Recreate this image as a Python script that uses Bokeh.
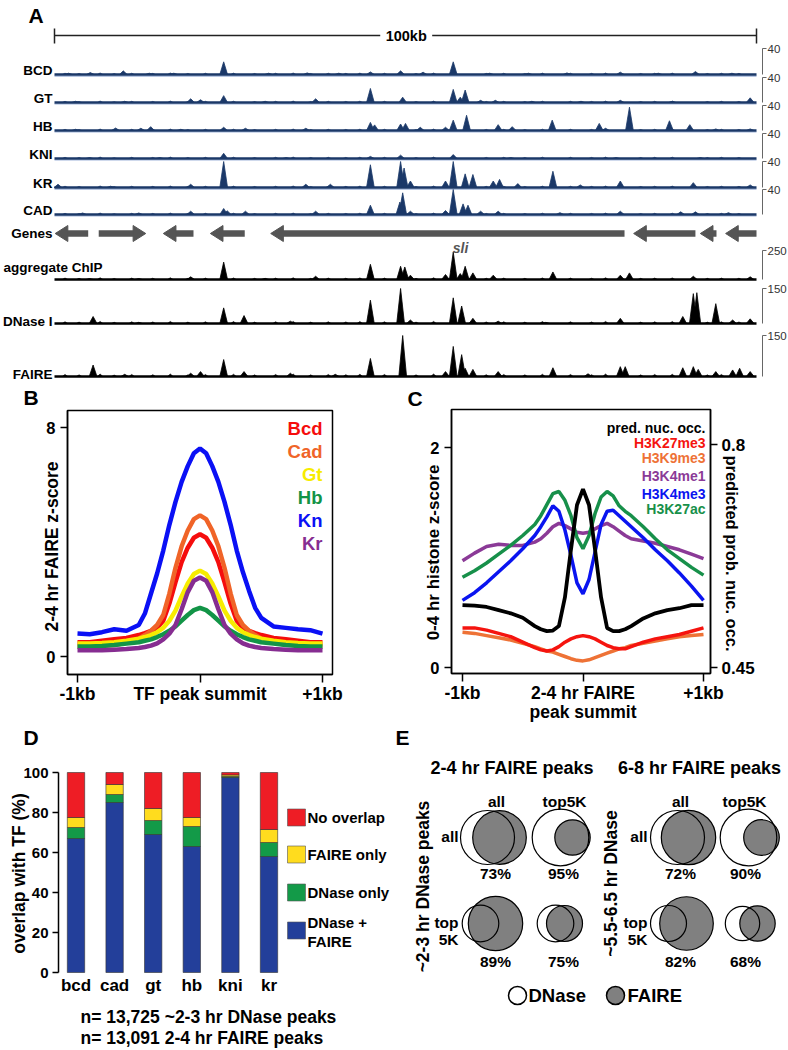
import math
from bokeh.plotting import figure
from bokeh.layouts import column, row
from bokeh.models import Range1d, LinearAxis, FixedTicker, Label
from bokeh.embed import file_html
from bokeh.resources import INLINE

FONT = "Liberation Sans"

# ---------------- Panel A data ----------------
track_names = ["BCD", "GT", "HB", "KNI", "KR", "CAD", "aggregate ChIP", "DNase I", "FAIRE"]
track_max = [40, 40, 40, 40, 40, 40, 250, 150, 150]

bcd_pos = [2.0, 5.1, 9.8, 13.5, 17.0, 24.1, 30.5, 36.0, 40.5, 45.0, 49.3, 52.5, 56.8, 62.0, 67.5, 73.0, 80.6, 86.0, 91.3, 96.5]
bcd_val = [2.0, 3.0, 5.6, 2.0, 2.0, 19.5, 2.0, 2.5, 2.0, 4.0, 5.6, 3.6, 19.5, 2.0, 2.0, 2.5, 3.6, 2.0, 4.6, 2.0]
gt_pos = [3.0, 10.0, 19.4, 20.8, 24.1, 30.0, 37.2, 45.0, 49.6, 56.8, 57.8, 58.5, 60.7, 62.8, 68.0, 75.0, 80.6, 88.0, 99.1]
gt_val = [2.0, 2.0, 6.0, 4.5, 11.0, 2.0, 6.0, 22.5, 8.5, 21.0, 8.5, 20.0, 3.5, 3.5, 2.0, 2.0, 3.5, 2.0, 7.5]
hb_pos = [3.0, 8.7, 12.3, 13.7, 18.0, 24.1, 27.2, 35.8, 45.0, 45.6, 49.3, 50.0, 52.1, 55.7, 56.8, 58.7, 63.2, 65.2, 70.9, 77.6, 78.5, 81.9, 87.6, 90.5, 94.2, 99.1]
hb_val = [2.0, 4.0, 3.6, 6.2, 2.0, 5.2, 3.6, 3.6, 13.0, 9.0, 10.4, 11.4, 5.2, 5.2, 16.6, 24.4, 9.4, 6.2, 16.6, 11.4, 3.6, 37.4, 15.6, 9.4, 2.6, 2.6]
kni_pos = [5.0, 15.0, 24.1, 33.0, 45.0, 49.3, 56.8, 65.0, 80.0, 92.0]
kni_val = [1.5, 1.5, 8.3, 1.5, 3.4, 5.4, 6.3, 1.5, 1.5, 1.5]
kr_pos = [0.5, 8.0, 19.4, 24.1, 35.8, 39.3, 45.0, 49.3, 49.8, 50.7, 55.7, 56.8, 58.5, 59.6, 62.5, 63.4, 66.0, 71.0, 74.9, 80.6, 91.0, 99.1]
kr_val = [5.0, 2.0, 5.0, 40.0, 5.0, 5.0, 35.0, 40.0, 30.0, 10.0, 10.0, 40.0, 21.0, 20.0, 10.0, 12.5, 6.0, 25.0, 4.0, 10.0, 7.5, 4.0]
cad_pos = [4.0, 12.0, 19.4, 24.1, 24.6, 27.2, 37.2, 45.0, 49.2, 49.6, 50.7, 55.7, 56.8, 58.2, 58.9, 60.7, 63.2, 72.0, 80.6, 89.2, 91.3, 96.0]
cad_val = [2.5, 2.5, 5.3, 9.6, 6.0, 5.3, 5.3, 14.9, 20.0, 34.7, 5.3, 6.4, 40.0, 17.0, 14.9, 5.3, 5.3, 3.0, 5.3, 4.3, 4.3, 3.0]
agg_pos = [5.0, 12.0, 19.4, 24.1, 30.0, 37.2, 45.0, 49.3, 49.9, 50.7, 55.7, 56.8, 57.8, 58.5, 59.6, 62.5, 71.0, 80.6, 81.9, 91.0, 99.1]
agg_val = [8, 8, 23, 150, 10, 28, 131, 114, 108, 37, 43, 236, 51, 114, 57, 37, 65, 37, 57, 28, 23]
dnase_pos = [5.5, 12.0, 24.1, 27.0, 33.6, 45.0, 49.3, 50.7, 56.8, 58.0, 59.6, 63.2, 70.0, 80.6, 89.5, 91.0, 91.5, 94.2, 96.6, 99.1]
dnase_val = [30, 5, 67, 34, 10, 100, 150, 15, 110, 75, 22, 10, 5, 22, 30, 128, 132, 85, 15, 20]
faire_pos = [5.5, 10.0, 19.4, 20.8, 24.1, 27.0, 33.6, 40.0, 45.0, 49.6, 55.7, 56.8, 58.0, 58.5, 59.6, 63.2, 71.0, 76.0, 80.6, 81.3, 89.5, 91.0, 91.7, 94.2, 96.6, 97.6, 99.1]
faire_val = [42, 8, 12, 18, 62, 18, 12, 8, 66, 150, 18, 110, 80, 30, 26, 18, 32, 10, 36, 36, 32, 36, 26, 18, 24, 30, 18]
# low background signal shared by all tracks (fraction of each track's scale)
floor_pos = [1.5, 3.5, 6.5, 8.5, 11.0, 14.0, 16.5, 19.0, 21.5, 25.5, 28.5, 31.5, 34.0, 36.5, 39.0,
             41.5, 43.5, 47.0, 51.5, 54.0, 61.5, 64.0, 67.0, 69.5, 73.5, 76.5, 78.5, 83.5, 85.5,
             88.0, 93.0, 95.0, 97.5]
floor_frac = [0.05, 0.04, 0.06, 0.035, 0.05, 0.045, 0.06, 0.04, 0.05, 0.055, 0.04, 0.05, 0.06,
              0.04, 0.05, 0.045, 0.055, 0.05, 0.04, 0.06, 0.045, 0.05, 0.04, 0.055, 0.05, 0.045,
              0.06, 0.04, 0.05, 0.055, 0.04, 0.05, 0.045]

gene_start = [0.1, 6.3, 15.5, 22.2, 30.8, 82.5, 92.0, 95.6]
gene_end = [4.8, 13.0, 19.8, 27.1, 81.2, 91.3, 94.3, 100.0]
gene_strand = ["-", "+", "-", "-", "-", "-", "-", "-"]

# ---------------- Panel B data ----------------
b_x = [-1000, -900, -800, -700, -600, -500, -450, -400, -350, -300, -250, -200, -150, -100, -50, 0,
       50, 100, 150, 200, 250, 300, 350, 400, 450, 500, 600, 700, 800, 900, 1000]
b_names = ["Bcd", "Cad", "Gt", "Hb", "Kn", "Kr"]
b_bcd = [0.5, 0.5, 0.55, 0.6, 0.65, 0.75, 0.82, 0.9, 1.0, 1.25, 1.85, 2.6, 3.3, 3.8, 4.15, 4.27, 4.15, 3.8, 3.3, 2.6, 1.85, 1.25, 1.0, 0.9, 0.82, 0.75, 0.65, 0.6, 0.55, 0.5, 0.5]
b_cad = [0.35, 0.35, 0.38, 0.4, 0.48, 0.62, 0.75, 0.9, 1.1, 1.45, 2.2, 3.1, 3.85, 4.4, 4.8, 4.93, 4.8, 4.4, 3.85, 3.1, 2.2, 1.45, 1.1, 0.9, 0.75, 0.62, 0.48, 0.42, 0.4, 0.38, 0.35]
b_gt = [0.45, 0.45, 0.47, 0.5, 0.55, 0.62, 0.68, 0.75, 0.85, 1.0, 1.25, 1.6, 2.1, 2.55, 2.88, 3.0, 2.88, 2.55, 2.1, 1.6, 1.25, 1.0, 0.85, 0.75, 0.68, 0.62, 0.55, 0.5, 0.47, 0.45, 0.45]
b_hb = [0.35, 0.35, 0.37, 0.4, 0.45, 0.5, 0.55, 0.6, 0.68, 0.78, 0.9, 1.05, 1.25, 1.45, 1.62, 1.7, 1.62, 1.45, 1.25, 1.05, 0.9, 0.78, 0.68, 0.6, 0.55, 0.5, 0.45, 0.4, 0.37, 0.35, 0.35]
b_kn = [0.8, 0.78, 0.85, 0.95, 0.9, 1.1, 1.5, 2.2, 2.9, 3.7, 4.6, 5.4, 6.1, 6.65, 7.1, 7.27, 7.1, 6.65, 6.1, 5.4, 4.6, 3.7, 2.95, 2.3, 1.7, 1.35, 1.05, 1.0, 0.95, 0.92, 0.8]
b_kr = [0.22, 0.22, 0.22, 0.24, 0.26, 0.3, 0.33, 0.38, 0.46, 0.6, 0.8, 1.1, 1.65, 2.25, 2.65, 2.76, 2.65, 2.25, 1.65, 1.1, 0.8, 0.6, 0.46, 0.38, 0.33, 0.3, 0.26, 0.24, 0.22, 0.22, 0.22]

# ---------------- Panel C data ----------------
c_x = [-1.0, -0.9, -0.8, -0.7, -0.6, -0.5, -0.4, -0.35, -0.3, -0.25, -0.2, -0.15, -0.1, -0.05, 0.0,
       0.05, 0.1, 0.15, 0.2, 0.25, 0.3, 0.35, 0.4, 0.5, 0.6, 0.7, 0.8, 0.9, 1.0]
c_names = ["pred. nuc. occ.", "H3K27me3", "H3K9me3", "H3K4me1", "H3K4me3", "H3K27ac"]
c_nuc = [0.548, 0.547, 0.545, 0.54, 0.535, 0.528, 0.515, 0.51, 0.507, 0.508, 0.515, 0.56, 0.635, 0.705, 0.73,
         0.705, 0.635, 0.56, 0.512, 0.507, 0.507, 0.51, 0.515, 0.527, 0.535, 0.54, 0.543, 0.548, 0.548]
c_k27me3 = [0.36, 0.36, 0.34, 0.31, 0.28, 0.23, 0.18, 0.16, 0.15, 0.16, 0.19, 0.23, 0.26, 0.28, 0.29,
            0.28, 0.26, 0.23, 0.2, 0.18, 0.17, 0.17, 0.19, 0.23, 0.26, 0.28, 0.3, 0.33, 0.36]
c_k9me3 = [0.32, 0.31, 0.29, 0.27, 0.25, 0.22, 0.19, 0.17, 0.15, 0.14, 0.12, 0.1, 0.08, 0.065, 0.06,
           0.07, 0.09, 0.11, 0.13, 0.15, 0.17, 0.18, 0.2, 0.22, 0.24, 0.26, 0.28, 0.29, 0.3]
c_k4me1 = [0.97, 1.04, 1.1, 1.12, 1.11, 1.11, 1.14, 1.17, 1.22, 1.28, 1.31, 1.29, 1.26, 1.23, 1.22,
           1.23, 1.26, 1.29, 1.31, 1.28, 1.24, 1.2, 1.17, 1.15, 1.13, 1.1, 1.07, 1.03, 0.99]
c_k4me3 = [0.61, 0.68, 0.77, 0.87, 0.97, 1.08, 1.2, 1.28, 1.37, 1.47, 1.42, 1.25, 1.02, 0.77, 0.67,
           0.8, 1.05, 1.3, 1.42, 1.43, 1.38, 1.33, 1.28, 1.18, 1.07, 0.97, 0.86, 0.74, 0.61]
c_k27ac = [0.82, 0.88, 0.95, 1.03, 1.11, 1.2, 1.3, 1.38, 1.48, 1.58, 1.6, 1.52, 1.38, 1.18, 1.08,
           1.2, 1.4, 1.55, 1.6, 1.56, 1.47, 1.42, 1.38, 1.28, 1.17, 1.07, 0.99, 0.91, 0.84]

# ---------------- Panel D data ----------------
d_cats = ["bcd", "cad", "gt", "hb", "kni", "kr"]
d_both = [67.0, 85.0, 69.0, 63.0, 97.5, 58.0]
d_dnase_only = [5.5, 4.0, 7.0, 10.0, 0.5, 7.0]
d_faire_only = [5.0, 5.0, 6.0, 4.5, 0.8, 6.5]
d_none = [22.5, 6.0, 18.0, 22.5, 1.2, 28.5]
d_series = ["No overlap", "FAIRE only", "DNase only", "DNase +", "FAIRE"]

# ---------------- Panel E data ----------------
e_groups = ["2-4 hr FAIRE peaks", "6-8 hr FAIRE peaks"]
e_percent = ["73%", "95%", "89%", "75%", "72%", "90%", "82%", "68%"]

NAVY = "#1b3868"


def txt(p, x, y, s, size, color="black", style="bold", align="left", baseline="middle",
        angle=0.0, yr="default"):
    p.add_layout(Label(x=x, y=y, text=s, text_font=FONT, text_font_size=f"{size}px",
                       text_font_style=style, text_color=color, text_align=align,
                       text_baseline=baseline, angle=angle, y_range_name=yr))


def make_axis(size, tick_out, standoff, ticks, fixed, bounds, yr="default"):
    ax = LinearAxis(ticker=FixedTicker(ticks=ticks), fixed_location=fixed, bounds=bounds,
                    y_range_name=yr)
    ax.major_tick_in = 0
    ax.major_tick_out = tick_out
    ax.minor_tick_line_color = None
    ax.major_tick_line_color = "black"
    ax.major_tick_line_width = 1.5
    ax.axis_line_color = "black"
    ax.axis_line_width = 1.5
    ax.major_label_text_font = FONT
    ax.major_label_text_font_size = f"{size}px"
    ax.major_label_text_font_style = "bold"
    ax.major_label_text_color = "black"
    ax.major_label_standoff = standoff
    return ax


def base_fig(w, h, xr, yr):
    p = figure(width=w, height=h, x_range=xr, y_range=yr, output_backend="svg",
               toolbar_location=None, min_border=0, x_axis_location=None,
               y_axis_location=None, frame_align=False)
    p.grid.visible = False
    p.outline_line_color = None
    return p


ROW2_TOP, ROW3_TOP, PAGE_BOTTOM = 386, 724, 1048


# ================= Panel A =================
def kb(px):
    return (px - 54) / 7.02


pa = base_fig(788, ROW2_TOP, Range1d(kb(0), kb(788)), Range1d(ROW2_TOP, 0))
A_TOP = [48, 77, 105, 133, 161, 189, 250, 288, 335]
A_BASE = [74, 102, 130, 158, 187, 214, 279, 323, 376]
ranges = {}
for i in range(9):
    upp = track_max[i] / (A_BASE[i] - A_TOP[i])
    ranges[f"t{i}"] = Range1d(start=(A_BASE[i] - ROW2_TOP) * upp, end=A_BASE[i] * upp)
pa.extra_y_ranges = ranges

tracks = [(bcd_pos, bcd_val), (gt_pos, gt_val), (hb_pos, hb_val), (kni_pos, kni_val),
          (kr_pos, kr_val), (cad_pos, cad_val), (agg_pos, agg_val), (dnase_pos, dnase_val),
          (faire_pos, faire_val)]
HW = 0.55
for i, (pos, val) in enumerate(tracks):
    rn = f"t{i}"
    col = NAVY if i < 6 else "black"
    M = track_max[i]
    if i < 6:
        pa.line([0, 100], [-0.06 * M, -0.06 * M], line_color="#9fb3d9", line_width=1.2, y_range_name=rn)
    fx = [[p - 0.4, p, p + 0.4] for p in floor_pos]
    fy = [[0, f * M, 0] for f in floor_frac]
    pa.patches(fx, fy, fill_color=col, line_color=col, line_width=0.6, y_range_name=rn)
    xs = [[p - HW, p, p + HW] for p in pos]
    ys = [[0, v, 0] for v in val]
    pa.patches(xs, ys, fill_color=col, line_color=col, line_width=0.8, y_range_name=rn)
    pa.line([0, 100], [0, 0], line_color=col, line_width=2.5, y_range_name=rn)
    xb = kb(762)
    pa.segment(x0=[xb, xb], y0=[0, M], x1=[xb, kb(766)], y1=[M, M], line_color="#666666",
               line_width=1, y_range_name=rn)
    txt(pa, kb(767), M, str(M), 11.5, color="#333333", style="normal", yr=rn)
    if i == 6:
        txt(pa, kb(102), 267, track_names[i], 13.5, align="right")
    elif i >= 7:
        txt(pa, kb(52), A_BASE[i] - 2, track_names[i], 13.5, align="right")
    else:
        txt(pa, kb(52), A_BASE[i] - 4, track_names[i], 13.5, align="right")

GY = 233
for s, e, st in zip(gene_start, gene_end, gene_strand):
    if st == "-":
        pa.segment(x0=[s + 1.2], y0=[GY], x1=[e], y1=[GY], line_color="#555555", line_width=6.5)
        pa.patch([s, s + 1.8, s + 1.8], [GY, GY - 8, GY + 8], color="#555555")
    else:
        pa.segment(x0=[s], y0=[GY], x1=[e - 1.2], y1=[GY], line_color="#555555", line_width=6.5)
        pa.patch([e, e - 1.8, e - 1.8], [GY, GY - 8, GY + 8], color="#555555")
txt(pa, kb(52), GY, "Genes", 13.5, align="right")
txt(pa, kb(460), 247, "sli", 14, color="#555555", style="bold italic", align="center")

pa.segment(x0=[0, 53.8, 0, 100], y0=[35, 35, 28, 28], x1=[46.4, 100, 0, 100], y1=[35, 35, 43, 43],
           line_color="#222222", line_width=1.5)
txt(pa, 50.1, 35, "100kb", 14.5, align="center")
txt(pa, kb(28), 15, "A", 21)


# ================= Panel B =================
def BX(px):
    return (px - 199.5) / 0.1225


def BY(py):
    return (656 - py) / 28.625


pb = base_fig(390, ROW3_TOP - ROW2_TOP, Range1d(BX(0), BX(390)), Range1d(BY(ROW3_TOP), BY(ROW2_TOP)))
bl, br, bb, bt = BX(67), BX(332), BY(674), BY(410)
pb.quad(left=[bl], right=[br], bottom=[bb], top=[bt], fill_color=None, line_color="black",
        line_width=1.5)
pb.add_layout(make_axis(16.5, 7, 5, [0, 8], bl, (bb, bt)), "left")
axb = make_axis(17.5, 8, 1, [-1000, 0, 1000], bb, (bl, br))
axb.major_label_overrides = {-1000: "-1kb", 0: "TF peak summit", 1000: "+1kb"}
pb.add_layout(axb, "below")

b_colors = ["#f50d0d", "#f06428", "#f7ec00", "#129447", "#0a10f5", "#862d91"]
for yv, col in zip([b_bcd, b_cad, b_gt, b_hb, b_kn, b_kr], b_colors):
    pb.line(b_x, yv, line_color=col, line_width=4.5)
for k, (nm, col) in enumerate(zip(b_names, b_colors)):
    txt(pb, BX(322), BY(428 + 23 * k), nm, 18.5, color=col, align="right")
txt(pb, BX(51), BY(546), "2-4 hr FAIRE z-score", 17.5, align="center", angle=math.pi / 2)
txt(pb, BX(23), BY(397), "B", 21)


# ================= Panel C =================
def CX(px):
    return (px - 582.5) / 120.5


def CY(py):
    return (667 - py) / 110.0


def CN(py):
    return 0.45 + (667 - py) * 0.35 / 223.0


pc = base_fig(398, ROW3_TOP - ROW2_TOP, Range1d(CX(390), CX(788)), Range1d(CY(ROW3_TOP), CY(ROW2_TOP)))
pc.extra_y_ranges = {"nuc": Range1d(CN(ROW3_TOP), CN(ROW2_TOP))}
cl, cr, cb, ct = CX(451), CX(710), CY(673), CY(409)
pc.quad(left=[cl], right=[cr], bottom=[cb], top=[ct], fill_color=None, line_color="black",
        line_width=1.5)
pc.add_layout(make_axis(16.5, 7, 5, [0, 2], cl, (cb, ct)), "left")
axc = make_axis(17.5, 8, 1, [-1, 0, 1], cb, (cl, cr))
axc.major_label_overrides = {-1: "-1kb", 0: "2-4 hr FAIRE", 1: "+1kb"}
pc.add_layout(axc, "below")
axr = make_axis(17, 7, 4, [0.45, 0.8], cr, (CN(673), CN(409)), yr="nuc")
axr.major_label_overrides = {0.45: "0.45", 0.8: "0.8"}
pc.add_layout(axr, "right")

c_colors = ["black", "#f5140f", "#ee7236", "#8b3a97", "#0a14f0", "#17904a"]
pc.line(c_x, c_k9me3, line_color=c_colors[2], line_width=3.5)
pc.line(c_x, c_k27me3, line_color=c_colors[1], line_width=3.5)
pc.line(c_x, c_k4me1, line_color=c_colors[3], line_width=3.5)
pc.line(c_x, c_k4me3, line_color=c_colors[4], line_width=3.5)
pc.line(c_x, c_k27ac, line_color=c_colors[5], line_width=3.5)
pc.line(c_x, c_nuc, line_color="black", line_width=3.8, y_range_name="nuc")
for k, (nm, col) in enumerate(zip(c_names, c_colors)):
    ypx = [427, 442, 457, 475, 493, 508][k]
    txt(pc, CX(705), CY(ypx), nm, 14, color=col, align="right")
txt(pc, CX(582.5), CY(711), "peak summit", 17.5, align="center")
txt(pc, CX(433), CY(552), "0-4 hr histone z-score", 17, align="center", angle=math.pi / 2)
txt(pc, CX(731), CY(553), "predicted prob. nuc. occ.", 16.5, align="center", angle=-math.pi / 2)
txt(pc, CX(407), CY(398), "C", 21)


# ================= Panel D =================
def DX(px):
    return (px - 75.5) / 38.6


def DY(py):
    return (972 - py) / 2.0


pdd = base_fig(390, PAGE_BOTTOM - ROW3_TOP, Range1d(DX(0), DX(390)), Range1d(DY(PAGE_BOTTOM), DY(ROW3_TOP)))
pdd.add_layout(make_axis(15, 6, 4, [0, 20, 40, 60, 80, 100], DX(58), (0, 100)), "left")
axd = make_axis(17, 0, 3, list(range(len(d_cats))), 0, (DX(58), DX(285)))
axd.major_label_overrides = {i: c for i, c in enumerate(d_cats)}
axd.axis_line_color = None
axd.major_tick_line_color = None
pdd.add_layout(axd, "below")

d_colors = ["#ee1d25", "#ffdc1e", "#139a48", "#233f9a"]
xs = list(range(len(d_cats)))
bottom = [0.0] * len(d_cats)
for vals, col in zip([d_both, d_dnase_only, d_faire_only, d_none],
                     [d_colors[3], d_colors[2], d_colors[1], d_colors[0]]):
    top = [b + v for b, v in zip(bottom, vals)]
    pdd.vbar(x=xs, width=0.45, bottom=bottom, top=top, fill_color=col, line_color="#333333",
             line_width=0.6)
    bottom = top
leg_py = [817, 854, 892, 930]
pdd.rect(x=[DX(296)] * 4, y=[DY(v) for v in leg_py], width=18 / 38.6, height=8.5,
         fill_color=d_colors, line_color="#555555", line_width=0.6)
txt(pdd, DX(307), DY(817), d_series[0], 15)
txt(pdd, DX(307), DY(854), d_series[1], 15)
txt(pdd, DX(307), DY(892), d_series[2], 15)
txt(pdd, DX(307), DY(922), d_series[3], 15)
txt(pdd, DX(307), DY(941), d_series[4], 15)
txt(pdd, DX(80), DY(1016), "n= 13,725 ~2-3 hr DNase peaks", 17.5)
txt(pdd, DX(80), DY(1037), "n= 13,091 2-4 hr FAIRE peaks", 17.5)
txt(pdd, DX(18), DY(873), "overlap with TF (%)", 17.5, align="center", angle=math.pi / 2)
txt(pdd, DX(23), DY(737), "D", 21)

# ================= Panel E =================  (page px coordinates)
pe = base_fig(398, PAGE_BOTTOM - ROW3_TOP, Range1d(390, 788), Range1d(PAGE_BOTTOM, ROW3_TOP))
e_dn_x = [487, 560, 480, 555, 677, 748, 668, 742]
e_fa_x = [499, 572, 495, 564, 688, 761, 686, 757]
e_cy = [837, 837, 923, 923, 837, 837, 923, 923]
e_dn_r = [27, 28.3, 18.3, 18.3, 27, 28.3, 18, 17.2]
e_fa_r = [26.8, 17.7, 27.2, 18, 27.2, 17.8, 26.8, 17.7]
pe.circle(x=e_fa_x, y=e_cy, radius=e_fa_r, fill_color="#808080", line_color="black", line_width=1.2)
pe.circle(x=e_dn_x, y=e_cy, radius=e_dn_r, fill_color=None, line_color="black", line_width=1.2)
e_px = [495, 563, 495, 563, 680, 745, 680, 745]
e_py = [873, 873, 961, 961, 873, 873, 961, 961]
for s, x, y in zip(e_percent, e_px, e_py):
    txt(pe, x, y, s, 15.5, align="center")
txt(pe, 511.5, 767, e_groups[0], 18, align="center")
txt(pe, 699, 767, e_groups[1], 18, align="center")
for x, s in zip([496, 564, 680, 744], ["all", "top5K", "all", "top5K"]):
    txt(pe, x, 801, s, 15.5, align="center")
for xr in [458, 647]:
    txt(pe, xr, 836, "all", 15.5, align="right")
    txt(pe, xr, 922, "top", 15.5, align="right")
    txt(pe, xr, 939, "5K", 15.5, align="right")
txt(pe, 422, 886, "~2-3 hr DNase peaks", 17.5, align="center", angle=math.pi / 2)
txt(pe, 610, 883, "~5.5-6.5 hr DNase", 17.5, align="center", angle=math.pi / 2)
pe.circle(x=[517], y=[995], radius=9, fill_color="white", line_color="black", line_width=1.5)
pe.circle(x=[615], y=[995], radius=9, fill_color="#808080", line_color="black", line_width=1.5)
txt(pe, 528, 995, "DNase", 18.5)
txt(pe, 627, 995, "FAIRE", 18.5)
txt(pe, 395, 737, "E", 21)

layout = column(pa, row(pb, pc), row(pdd, pe))
open("out.html", "w").write(file_html(layout, INLINE))
